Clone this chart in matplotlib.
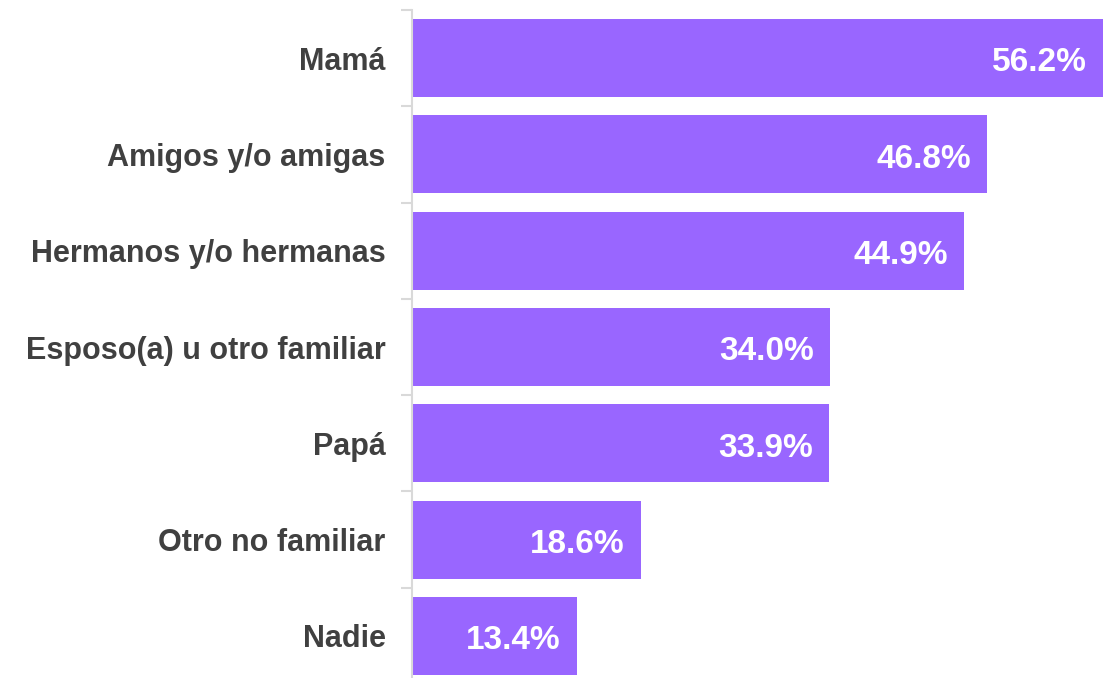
import matplotlib
matplotlib.use("Agg")
import matplotlib.pyplot as plt

# categorias y porcentajes (de arriba hacia abajo)
categories = ["Mamá", "Amigos y/o amigas", "Hermanos y/o hermanas",
              "Esposo(a) u otro familiar", "Papá", "Otro no familiar", "Nadie"]
values = [56.2, 46.8, 44.9, 34.0, 33.9, 18.6, 13.4]

plt.rcParams["font.family"] = ["Liberation Sans", "DejaVu Sans"]

fig = plt.figure(figsize=(11.1, 6.78), dpi=100)
ax = fig.add_axes([412 / 1110, -6 / 678, 691 / 1110, 674 / 678])

ypos = list(range(len(categories)))
ax.barh(ypos, values, height=0.81, color="#9966ff", zorder=2)

for y, v in zip(ypos, values):
    ax.text(v - 1.3, y + 0.05, f"{v:.1f}%", ha="right", va="center",
            color="white", fontsize=24, fontweight="bold", zorder=3)

ax.set_xlim(0, 56.2)
ax.set_ylim(len(categories) - 0.5, -0.5)
ax.set_xticks([])

ax.set_yticks(ypos)
ax.set_yticklabels(categories, fontsize=22, fontweight="bold", color="#404040")
ax.set_yticks([y - 0.5 for y in ypos] + [len(categories) - 0.5], minor=True)
ax.tick_params(axis="y", which="major", length=0, pad=19)
ax.tick_params(axis="y", which="minor", length=8, color="#d9d9d9", width=1.5)

for side in ["top", "right", "bottom"]:
    ax.spines[side].set_visible(False)
ax.spines["left"].set_color("#d9d9d9")
ax.spines["left"].set_linewidth(1.5)

fig.savefig("out.png", dpi=100)
